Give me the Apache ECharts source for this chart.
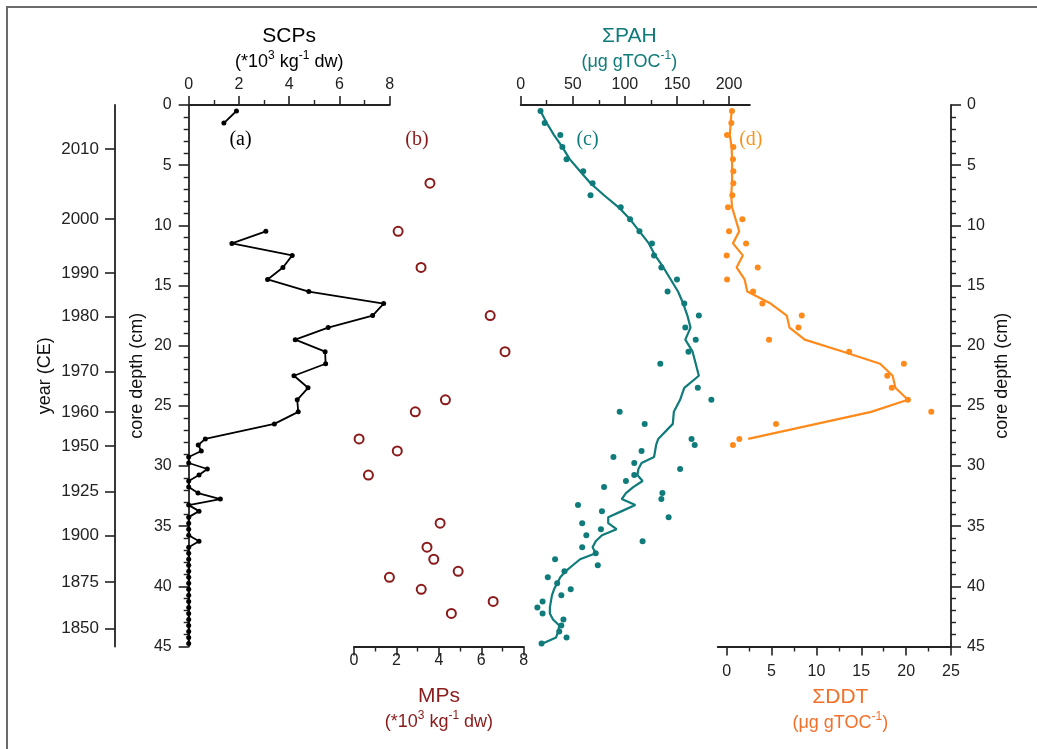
<!DOCTYPE html>
<html><head><meta charset="utf-8">
<script src="https://cdn.jsdelivr.net/npm/echarts@6/dist/echarts.min.js"></script>
<style>html,body{margin:0;padding:0;background:#fff}#c{width:1037px;height:749px}</style>
</head><body><div id="c"></div><script>
// ---- data ----
const yearLabels = [2010, 2000, 1990, 1980, 1970, 1960, 1950, 1925, 1900, 1875, 1850];
const yearDepths = [3.66, 9.46, 13.98, 17.58, 22.13, 25.51, 28.34, 32.11, 35.77, 39.66, 43.53];

const scpDepth = [0.5, 1.5, 2.5, 3.5, 4.5, 5.5, 6.5, 7.5, 8.5, 9.5, 10.5, 11.5, 12.5, 13.5, 14.5, 15.5, 16.5, 17.5, 18.5, 19.5, 20.5, 21.5, 22.5, 23.5, 24.5, 25.5, 26.5,
  27.75, 28.25, 28.75, 29.25, 29.75, 30.25, 30.75, 31.25, 31.75, 32.25, 32.75, 33.25, 33.75, 34.25, 34.75, 35.25, 35.75, 36.25, 36.75,
  37.25, 37.75, 38.25, 38.75, 39.25, 39.75, 40.25, 40.75, 41.25, 41.75, 42.25, 42.75, 43.25, 43.75, 44.25, 44.75];
const scpValue = [1.9, 1.4, null, null, null, null, null, null, null, null, 3.07, 1.72, 4.12, 3.75, 3.14, 4.78, 7.76, 7.32, 5.55, 4.24, 5.43, 5.45, 4.19, 4.75, 4.32, 4.36, 3.41,
  0.66, 0.38, 0.5, 0, 0, 0.74, 0.41, 0, 0, 0.37, 1.26, 0, 0.41, 0, 0, 0, 0, 0.41, 0,
  0, 0, 0, 0, 0, 0, 0, 0, 0, 0, 0, 0, 0, 0, 0, 0];

const mpDepth = [6.5, 10.5, 13.5, 17.5, 20.5, 24.5, 25.5, 27.75, 28.75, 30.75, 34.75, 36.75, 37.75, 38.75, 39.25, 40.25, 41.25, 42.25];
const mpValue = [3.58, 2.08, 3.16, 6.42, 7.12, 4.31, 2.89, 0.24, 2.04, 0.68, 4.06, 3.44, 3.76, 4.91, 1.67, 3.17, 6.56, 4.59];

const pahDepth = [0.5, 1.5, 2.5, 3.5, 4.5, 5.5, 6.5, 7.5, 8.5, 9.5, 10.5, 11.5, 12.5, 13.5, 14.5, 15.5, 16.5, 17.5, 18.5, 19.5, 20.5, 21.5, 23.5, 24.5, 25.5, 26.5,
  27.75, 28.25, 28.75, 29.25, 29.75, 30.25, 30.75, 31.25, 31.75, 32.25, 32.75, 33.25, 33.75, 34.25, 34.75, 35.25, 35.75, 36.25, 36.75,
  37.25, 37.75, 38.25, 38.75, 39.25, 39.75, 40.25, 40.75, 41.25, 41.75, 42.25, 42.75, 43.25, 43.75, 44.25, 44.75];
const pahValue = [19, 23, 38, 40, 44, 60, 69, 67, 96, 105, 114, 126, 128, 135, 150, 141, 157, 171, 158, 168, 161, 134, 170, 183, 95, 119,
  164, 167, 116, 89, 109, 153, 109, 101, 80, 136, 135, 55, 78, 142, 59, 77, 63, 117, 59,
  72, 33, 74, 42, 26, 35, 48, 39, 21, 16, 21, 41, 39, 37, 44, 20];

const pahLineDepth = [0.5, 1.5, 2.5, 3.5, 4.5, 5.5, 6.5, 7.5, 8.5, 9.5, 10.5, 11.5, 12.5, 13.5, 14.5, 15.5, 16.5, 17.5, 18.5, 19.5, 20.5, 22.5, 23.5, 24.5, 25.5, 26.5,
  27.75, 28.25, 28.75, 29.25, 29.75, 30.25, 30.75, 31.25, 31.75, 32.25, 32.75, 33.25, 33.75, 34.25, 34.75, 35.25, 35.75, 36.25, 36.75,
  37.25, 37.75, 38.25, 38.75, 39.25, 39.75, 40.25, 40.75, 41.25, 41.75, 42.25, 42.75, 43.25, 43.75, 44.25, 44.75];
const pahLineValue = [19, 25, 32, 40, 47, 57, 67, 80, 94, 105, 114, 123, 129, 137, 144, 151, 156, 160, 163, 158, 165, 171, 157, 153, 147, 146,
  132, 130, 129, 128, 116, 113, 112, 117, 108, 101, 97, 110, 97, 84, 84, 92, 78, 72, 69,
  72, 57, 50, 43, 38, 35, 32, 30, 29, 28, 28, 31, 37, 36, 34, 21];

const ddtDepth = [0.5, 1.5, 2.5, 3.5, 4.5, 5.5, 6.5, 7.5, 8.5, 9.5, 10.5, 11.5, 12.5, 13.5, 14.5, 15.5, 16.5, 17.5, 18.5, 19.5, 20.5, 21.5, 22.5, 23.5, 24.5, 25.5, 26.5, 27.75, 28.25];
const ddtValue = [0.59, 0.52, 0.04, 0.74, 0.7, 0.74, 0.74, 0.63, 0.15, 1.75, 0.26, 2.16, 0, 3.46, 0.04, 2.94, 3.98, 8.37, 8.0, 4.72, 13.65, 19.75, 17.9, 18.4, 20.2, 22.8, 5.5, 1.41, 0.7];

const ddtLineDepth = [0.5, 1.5, 2.5, 3.5, 4.5, 5.5, 6.5, 7.5, 8.5, 10.5, 11.5, 12.5, 13.5, 14.5, 15.5, 16.5, 17.5, 18.5, 19.5, 20.5, 21.5, 22.5, 23.5, 24.5, 25.5, 27.75];
const ddtLineValue = [0.55, 0.45, 0.35, 0.55, 0.6, 0.6, 0.6, 0.5, 0.6, 1.4, 0.7, 1.8, 1.1, 2.0, 2.3, 4.9, 6.7, 7.0, 8.7, 13.0, 17.1, 18.5, 18.8, 20.2, 16.1, 2.4];

const pahMajorTicks = [0, 50, 100, 150, 200];
const pahMinorTicks = [25, 75, 125, 175];
const ddtMajorTicks = [0, 5, 10, 15, 20, 25];
const ddtMinorTicks = [2.5, 7.5, 12.5, 17.5, 22.5];

// ---- style ----
const FONT = 'Liberation Sans';
const AX = '#222';
const C_SCP = '#000000', C_MP = '#8b1a1a', C_PAH = '#0f7b7a', C_DDT = '#ff8a1c', C_DDT_T = '#f2702a';

const pair = (xs, ys) => xs.map((x, i) => [x == null ? '-' : x, ys[i]]);
const axLine = () => ({ show: true, onZero: false, lineStyle: { color: AX, width: 1.8 } });
const majTick = (extra) => Object.assign({ show: true, length: 9, lineStyle: { color: AX, width: 1.6 } }, extra || {});
const minTick = (extra) => Object.assign({ show: true, length: 5, lineStyle: { color: AX, width: 1.4 } }, extra || {});
const tickLbl = (extra) => Object.assign({ color: AX, fontFamily: FONT, fontSize: 16 }, extra || {});

const unitRich = (col) => ({
  t: { fontFamily: FONT, fontSize: 21, lineHeight: 28, fill: col, color: col },
  u: { fontFamily: FONT, fontSize: 18, lineHeight: 24, fill: col, color: col },
  s: { fontFamily: FONT, fontSize: 12, lineHeight: 14, fill: col, color: col, verticalAlign: 'top' }
});
const titleText = (x, y, va, text, col) => ({
  type: 'text', x: x, y: y, silent: true,
  style: { text: text, rich: unitRich(col), align: 'center', verticalAlign: va, fill: col }
});

const depthAxisBase = () => ({
  type: 'value', min: 0, max: 45, interval: 5, inverse: true,
  axisLine: axLine(), splitLine: { show: false },
  axisTick: majTick({ length: 10 }),
  minorTick: minTick({ splitNumber: 5 }),
  minorSplitLine: { show: false }
});

const grids = [
  { left: 188.7, top: 105, width: 201, height: 541.5 },
  { left: 354, top: 105, width: 169.7, height: 541.5 },
  { left: 520.7, top: 105, width: 229.2, height: 541.5 },
  { left: 717.7, top: 105, width: 233.3, height: 541.5 }
].map(g => Object.assign({ outerBoundsMode: 'none' }, g));

const option = {
  animation: false,
  backgroundColor: '#fff',
  grid: grids,
  xAxis: [
    { // SCPs (top)
      gridIndex: 0, type: 'value', position: 'top', min: 0, max: 8, interval: 2,
      axisLine: axLine(), splitLine: { show: false },
      axisTick: majTick(), minorTick: minTick({ splitNumber: 2 }),
      axisLabel: tickLbl({ margin: 12 })
    },
    { // MPs (bottom)
      gridIndex: 1, type: 'value', position: 'bottom', min: 0, max: 8, interval: 2,
      axisLine: axLine(), splitLine: { show: false },
      axisTick: majTick(), minorTick: minTick({ splitNumber: 2 }),
      axisLabel: tickLbl({ margin: 6 })
    },
    { // PAH major (top)
      gridIndex: 2, type: 'value', position: 'top', min: 0, max: 220,
      axisLine: axLine(), splitLine: { show: false },
      axisTick: majTick({ customValues: pahMajorTicks }),
      axisLabel: tickLbl({ margin: 12, customValues: pahMajorTicks })
    },
    { // PAH minor ticks
      gridIndex: 2, type: 'value', position: 'top', min: 0, max: 220,
      axisLine: { show: false, onZero: false }, splitLine: { show: false }, axisLabel: { show: false },
      axisTick: minTick({ customValues: pahMinorTicks })
    },
    { // DDT major (bottom)
      gridIndex: 3, type: 'value', position: 'bottom', min: -1, max: 25,
      axisLine: axLine(), splitLine: { show: false },
      axisTick: majTick({ customValues: ddtMajorTicks }),
      axisLabel: tickLbl({ margin: 17, customValues: ddtMajorTicks })
    },
    { // DDT minor ticks
      gridIndex: 3, type: 'value', position: 'bottom', min: -1, max: 25,
      axisLine: { show: false, onZero: false }, splitLine: { show: false }, axisLabel: { show: false },
      axisTick: minTick({ customValues: ddtMinorTicks })
    }
  ],
  yAxis: [
    Object.assign(depthAxisBase(), { // left depth
      gridIndex: 0, position: 'left',
      axisLabel: tickLbl({ margin: 17 }),
      name: 'core depth (cm)', nameLocation: 'middle', nameRotate: 90, nameGap: 43, nameMoveOverlap: false,
      nameTextStyle: { fontFamily: FONT, fontSize: 18, color: '#111' }
    }),
    { // year axis
      gridIndex: 0, type: 'value', position: 'left', offset: 73.7, min: 0, max: 45, inverse: true,
      axisLine: axLine(), splitLine: { show: false },
      axisTick: majTick({ length: 10, customValues: yearDepths }),
      axisLabel: tickLbl({ margin: 16, fontSize: 17, customValues: yearDepths,
        formatter: (v) => { const i = yearDepths.findIndex(d => Math.abs(d - v) < 1e-6); return i >= 0 ? String(yearLabels[i]) : ''; } }),
      name: 'year (CE)', nameLocation: 'middle', nameRotate: 90, nameGap: 61, nameMoveOverlap: false,
      nameTextStyle: { fontFamily: FONT, fontSize: 18, color: '#111' }
    },
    { gridIndex: 1, type: 'value', min: 0, max: 45, inverse: true, show: false },
    { gridIndex: 2, type: 'value', min: 0, max: 45, inverse: true, show: false },
    Object.assign(depthAxisBase(), { // right depth
      gridIndex: 3, position: 'right',
      axisLabel: tickLbl({ margin: 16 }),
      name: 'core depth (cm)', nameLocation: 'middle', nameRotate: 90, nameGap: 42, nameMoveOverlap: false,
      nameTextStyle: { fontFamily: FONT, fontSize: 18, color: '#111' }
    })
  ],
  series: [
    { name: 'SCPs', type: 'line', xAxisIndex: 0, yAxisIndex: 0, data: pair(scpValue, scpDepth),
      symbol: 'circle', symbolSize: 5, showAllSymbol: true, connectNulls: false,
      itemStyle: { color: C_SCP }, lineStyle: { color: C_SCP, width: 1.8 } },
    { name: 'MPs', type: 'scatter', xAxisIndex: 1, yAxisIndex: 2, data: pair(mpValue, mpDepth),
      symbol: 'circle', symbolSize: 9, itemStyle: { color: '#fff', borderColor: C_MP, borderWidth: 2, opacity: 1 } },
    { name: 'ΣPAH line', type: 'line', xAxisIndex: 2, yAxisIndex: 3, data: pair(pahLineValue, pahLineDepth),
      showSymbol: false, lineStyle: { color: C_PAH, width: 2.2 } },
    { name: 'ΣPAH', type: 'scatter', xAxisIndex: 2, yAxisIndex: 3, data: pair(pahValue, pahDepth),
      symbol: 'circle', symbolSize: 6, itemStyle: { color: C_PAH, opacity: 1 } },
    { name: 'ΣDDT line', type: 'line', xAxisIndex: 4, yAxisIndex: 4, data: pair(ddtLineValue, ddtLineDepth),
      showSymbol: false, lineStyle: { color: C_DDT, width: 2.2 } },
    { name: 'ΣDDT', type: 'scatter', xAxisIndex: 4, yAxisIndex: 4, data: pair(ddtValue, ddtDepth),
      symbol: 'circle', symbolSize: 6, itemStyle: { color: C_DDT, opacity: 1 } }
  ],
  graphic: [
    { type: 'rect', shape: { x: 7, y: 7, width: 1100, height: 800 }, style: { fill: null, stroke: '#6b6b6b', lineWidth: 2 }, silent: true, z: -10 },
    titleText(289.2, 74, 'bottom', '{t|SCPs}\n{u|(*10}{s|3}{u| kg}{s|-1}{u| dw)}', '#000'),
    titleText(629.3, 74, 'bottom', '{t|ΣPAH}\n{u|(μg gTOC}{s|-1}{u|)}', C_PAH),
    titleText(438.9, 682, 'top', '{t|MPs}\n{u|(*10}{s|3}{u| kg}{s|-1}{u| dw)}', C_MP),
    titleText(840.3, 683, 'top', '{t|ΣDDT}\n{u|(μg gTOC}{s|-1}{u|)}', C_DDT_T),
    { type: 'text', x: 240.5, y: 140, silent: true, style: { text: '(a)', fill: '#000', font: '20px "Liberation Serif"', align: 'center', verticalAlign: 'middle' } },
    { type: 'text', x: 417, y: 140, silent: true, style: { text: '(b)', fill: C_MP, font: '20px "Liberation Serif"', align: 'center', verticalAlign: 'middle' } },
    { type: 'text', x: 587.5, y: 140, silent: true, style: { text: '(c)', fill: C_PAH, font: '20px "Liberation Serif"', align: 'center', verticalAlign: 'middle' } },
    { type: 'text', x: 750.8, y: 140, silent: true, style: { text: '(d)', fill: '#f7941d', font: '20px "Liberation Serif"', align: 'center', verticalAlign: 'middle' } }
  ]
};

const chart = echarts.init(document.getElementById('c'), null, { renderer: 'canvas' });
chart.setOption(option);
</script></body></html>
